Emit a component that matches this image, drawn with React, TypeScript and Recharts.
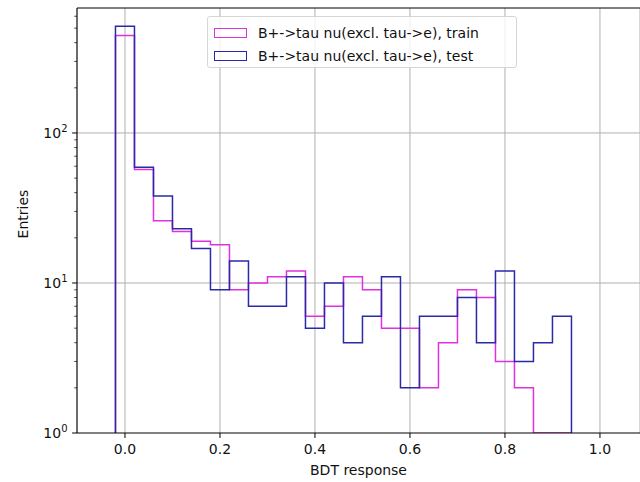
import React from 'react';
import { ComposedChart, Line, XAxis, YAxis, CartesianGrid, ReferenceLine, Legend } from 'recharts';

// Histogram bin edges (BDT response)
const binEdges = [
  -0.02, 0.02, 0.06, 0.1, 0.14, 0.18, 0.22, 0.26, 0.3, 0.34, 0.38, 0.42, 0.46,
  0.5, 0.54, 0.58, 0.62, 0.66, 0.7, 0.74, 0.78, 0.82, 0.86, 0.9, 0.94,
];
// Entries per bin
const trainCounts = [446, 57, 26, 22, 19, 18, 9, 10, 11, 12, 6, 7, 11, 9, 5, 5, 2, 4, 9, 8, 3, 2, 0, 0];
const testCounts = [515, 59, 38, 23, 17, 9, 14, 7, 7, 11, 5, 10, 4, 6, 11, 2, 6, 6, 8, 4, 12, 3, 4, 6];

const seriesNames = ['B+->tau nu(excl. tau->e), train', 'B+->tau nu(excl. tau->e), test'];
const seriesColors = ['#e030e0', '#2a2aa8'];

const xTicks = [0, 0.2, 0.4, 0.6, 0.8, 1.0];
const yMajorTicks = [1, 10, 100];
const yMinorTicks = [2, 3, 4, 5, 6, 7, 8, 9, 20, 30, 40, 50, 60, 70, 80, 90, 200, 300, 400, 500, 600];

const Y_MIN = 1;
const Y_MAX = 681;
const X_DOMAIN: [number, number] = [-0.101, 1.0843];
const FONT = 'DejaVu Sans, sans-serif';

function stepPoints(counts: number[]) {
  const pts: { x: number; y: number }[] = [];
  const f = (v: number) => Math.max(v, Y_MIN);
  pts.push({ x: binEdges[0], y: Y_MIN });
  counts.forEach((c, i) => pts.push({ x: binEdges[i], y: f(c) }));
  const last = counts.length - 1;
  pts.push({ x: binEdges[last + 1], y: f(counts[last]) });
  pts.push({ x: binEdges[last + 1], y: Y_MIN });
  return pts;
}

const trainPts = stepPoints(trainCounts);
const testPts = stepPoints(testCounts);

const YTick = (props: any) => {
  const { x, y, payload } = props;
  const v = payload.value;
  const major = yMajorTicks.includes(v);
  const exp = Math.round(Math.log10(v));
  return (
    <g>
      <line x1={x - (major ? 4.9 : 2.8)} x2={x} y1={y} y2={y} stroke="#000" strokeWidth={major ? 1 : 0.7} />
      {major && (
        <text x={x - 9.5} y={y + 5} textAnchor="end" fontSize={14} fontFamily={FONT} fill="#111">
          10<tspan dy={-6} fontSize={10}>{exp}</tspan>
        </text>
      )}
    </g>
  );
};

const LegendContent = () => (
  <div
    style={{
      boxSizing: 'border-box',
      width: 310,
      height: 52,
      border: '1px solid #d6d6d6',
      borderRadius: 3,
      background: 'rgba(255,255,255,0.8)',
      fontFamily: FONT,
      fontSize: 14,
      color: '#111',
      paddingTop: 4,
    }}
  >
    {seriesNames.map((n, i) => (
      <div key={n} style={{ display: 'flex', alignItems: 'center', height: 23.5, whiteSpace: 'nowrap' }}>
        <div
          style={{
            boxSizing: 'border-box',
            marginLeft: 6,
            width: 33,
            height: 10,
            border: `1.5px solid ${seriesColors[i]}`,
          }}
        />
        <span style={{ marginLeft: 11 }}>{n}</span>
      </div>
    ))}
  </div>
);

export default function App() {
  return (
    <div style={{ position: 'absolute', left: 0, top: 0, width: 640, height: 482, background: '#fff' }}>
      <ComposedChart width={640} height={482} margin={{ top: 8, right: 0, bottom: 0, left: 0 }}>
        <CartesianGrid horizontal={false} stroke="#b0b0b0" strokeWidth={1} />
        <XAxis
          type="number"
          dataKey="x"
          domain={X_DOMAIN}
          allowDataOverflow
          ticks={xTicks}
          interval={0}
          tickFormatter={(v: number) => v.toFixed(1)}
          height={49}
          tickSize={5}
          tickMargin={6}
          stroke="#000"
          tick={{ fill: '#111', fontSize: 14, fontFamily: FONT }}
          label={{ value: 'BDT response', position: 'insideBottom', offset: 7, fill: '#111', fontSize: 14, fontFamily: FONT }}
        />
        <YAxis
          type="number"
          scale="log"
          domain={[Y_MIN, Y_MAX]}
          allowDataOverflow
          ticks={[...yMajorTicks, ...yMinorTicks]}
          interval={0}
          width={77}
          tickSize={0}
          tickMargin={0}
          tickLine={false}
          stroke="#000"
          tick={<YTick />}
          label={{
            content: (p: any) => {
              const vb = p.viewBox || { x: 0, y: 8, width: 77, height: 425 };
              const cx = vb.x + 23;
              const cy = 214;
              return (
                <text
                  x={cx}
                  y={cy}
                  transform={`rotate(-90, ${cx}, ${cy})`}
                  textAnchor="middle"
                  dominantBaseline="central"
                  fontSize={14}
                  fontFamily={FONT}
                  fill="#111"
                >
                  Entries
                </text>
              );
            },
          }}
        />
        <ReferenceLine y={10} stroke="#b0b0b0" strokeWidth={1} />
        <ReferenceLine y={100} stroke="#b0b0b0" strokeWidth={1} />
        <ReferenceLine y={Y_MAX} stroke="#000" strokeWidth={1} />
        <Line
          data={trainPts}
          dataKey="y"
          type="stepAfter"
          stroke={seriesColors[0]}
          strokeWidth={1.5}
          dot={false}
          activeDot={false}
          isAnimationActive={false}
          name={seriesNames[0]}
        />
        <Line
          data={testPts}
          dataKey="y"
          type="stepAfter"
          stroke={seriesColors[1]}
          strokeWidth={1.5}
          dot={false}
          activeDot={false}
          isAnimationActive={false}
          name={seriesNames[1]}
        />
        <Legend
          layout="horizontal"
          verticalAlign="middle"
          align="center"
          content={<LegendContent />}
          wrapperStyle={{ position: 'absolute', left: 207, top: 16, width: 310, height: 52 }}
        />
      </ComposedChart>
    </div>
  );
}
